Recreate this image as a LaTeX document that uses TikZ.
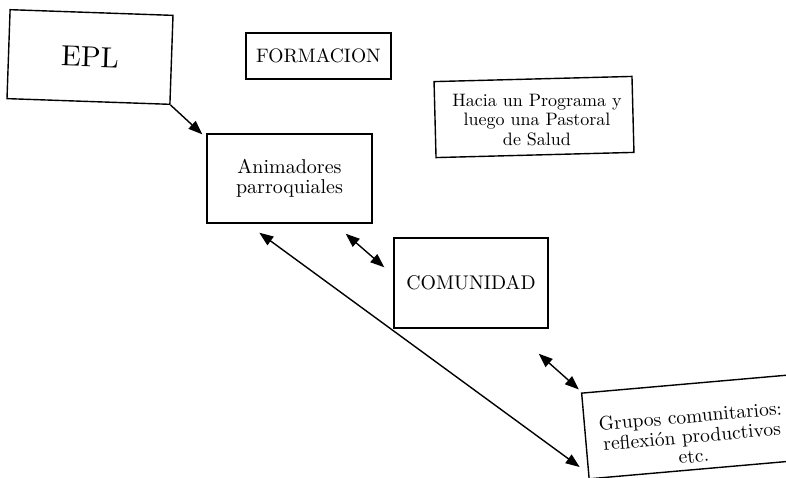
\documentclass[tikz,border=0pt]{standalone}
\usepackage{fontspec}
\setmainfont{lmroman10-regular}[Extension=.otf]
\usetikzlibrary{arrows.meta,calc}
\begin{document}
\begin{tikzpicture}[x=1pt,y=-1pt,
  box/.style={draw, line width=1.4pt, inner sep=0pt, align=center, font=\fontsize{18}{19.5}\selectfont},
  txt/.style={inner sep=0pt, align=center, font=\fontsize{19.5}{20}\selectfont},
  conn/.style={line width=1.4pt, -{Triangle[length=14pt,width=10.5pt]}},
  dconn/.style={line width=1.4pt, {Triangle[length=14pt,width=10.5pt]}-{Triangle[length=14pt,width=10.5pt]}}]
\useasboundingbox[fill=white] (0,0) rectangle (786,478);
\begin{scope}
\clip (0,0) rectangle (786,478);
\node[box, rotate=-2, minimum width=163, minimum height=89, font=\fontsize{29}{34}\selectfont] (epl) at (90,57) {EPL};
\node[box, minimum width=145, minimum height=46, font=\fontsize{19.5}{22}\selectfont] (form) at (318.5,56) {FORMACION};
\node[box, rotate=1.5, minimum width=198, minimum height=76] (haciabox) at (534,117) {};
\node[txt, font=\fontsize{18}{19.5}\selectfont] (hacia) at (537,120) {Hacia un Programa y\\luego una Pastoral\\de Salud};
\node[box, minimum width=165, minimum height=89, font=\fontsize{20}{20}\selectfont] (anim) at (289.5,178.5) {Animadores\\parroquiales};
\node[box, minimum width=154, minimum height=90, font=\fontsize{19.8}{22}\selectfont] (comu) at (471,283) {COMUNIDAD};
\node[box, rotate=5, minimum width=206, minimum height=86] (grupos) at (688,427) {};
\node[txt, rotate=5] (grupostxt) at (692,436) {Grupos comunitarios:\\reflexión productivos\\etc.};
\coordinate (e1) at ($(anim.north west)+(-4,1)$);
\coordinate (a1) at ($(anim.south east)+(-27,10)$);
\coordinate (c1) at ($(comu.north west)+(-9,30)$);
\coordinate (a2) at ($(anim.south west)+(53,9)$);
\coordinate (g2) at ($(grupos.west)+(-5,31)$);
\coordinate (c3) at ($(comu.south east)+(-10,25)$);
\coordinate (g3) at ($(grupos.north west)+(-2,-3)$);
\draw[conn] (epl.south east) -- (e1);
\draw[dconn] (a1) -- (c1);
\draw[dconn] (a2) -- (g2);
\draw[dconn] (c3) -- (g3);
\end{scope}
\end{tikzpicture}
\end{document}
